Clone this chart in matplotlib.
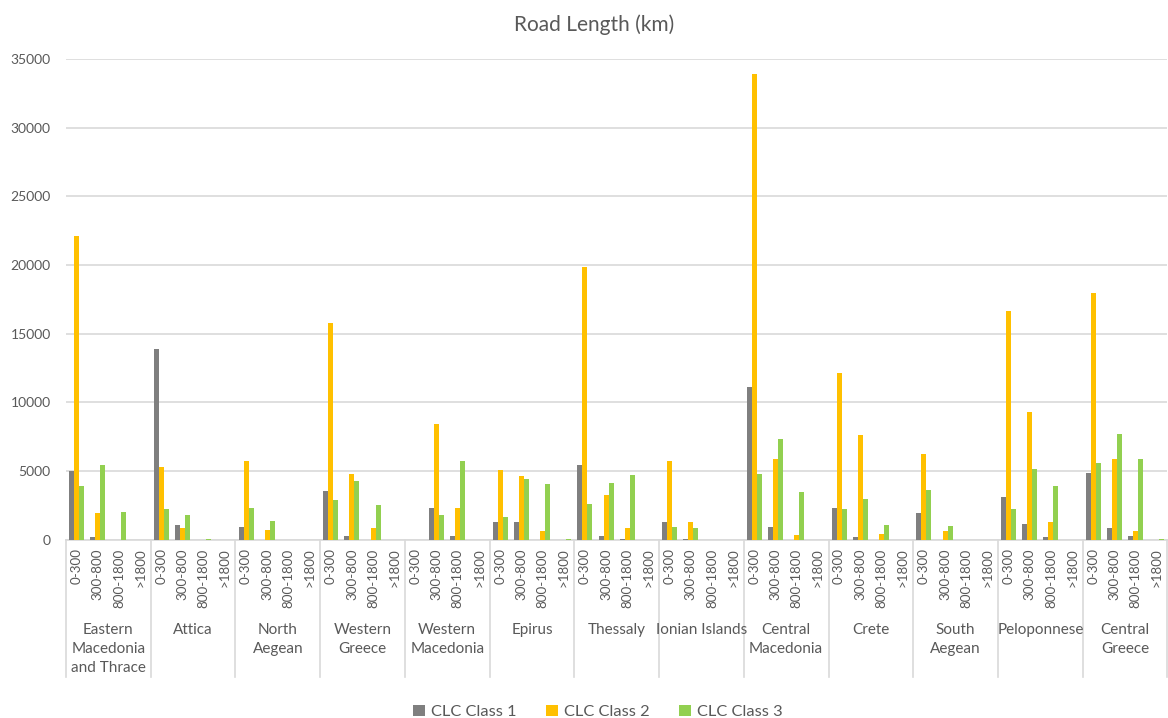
import numpy as np
import matplotlib.pyplot as plt
from matplotlib.transforms import blended_transform_factory

plt.rcParams['font.family'] = ['Lato', 'DejaVu Sans']

regions = ["Eastern\nMacedonia\nand Thrace", "Attica", "North\nAegean", "Western\nGreece",
           "Western\nMacedonia", "Epirus", "Thessaly", "Ionian Islands", "Central\nMacedonia",
           "Crete", "South\nAegean", "Peloponnese", "Central\nGreece"]
zones = ["0-300", "300-800", "800-1800", ">1800"]

# road length (km) per region, four elevation zones each
clc1 = [5000, 240, 0, 0,
        13900, 1090, 0, 0,
        920, 0, 0, 0,
        3590, 290, 0, 0,
        0, 2300, 315, 0,
        1330, 1290, 0, 0,
        5430, 315, 50, 0,
        1290, 50, 0, 0,
        11160, 970, 0, 0,
        2330, 240, 0, 0,
        1940, 0, 0, 0,
        3130, 1160, 220, 0,
        4900, 850, 270, 0]
clc2 = [22100, 1990, 0, 0,
        5340, 850, 0, 0,
        5750, 730, 0, 0,
        15770, 4800, 850, 0,
        0, 8420, 2300, 0,
        5090, 4660, 650, 0,
        19850, 3250, 850, 0,
        5770, 1330, 0, 0,
        33920, 5900, 360, 0,
        12130, 7620, 440, 0,
        6240, 680, 0, 0,
        16690, 9290, 1290, 0,
        18000, 5900, 680, 0]
clc3 = [3950, 5460, 2060, 0,
        2250, 1820, 50, 0,
        2300, 1380, 0, 0,
        2890, 4320, 2550, 0,
        0, 1820, 5770, 0,
        1700, 4420, 4080, 50,
        2600, 4170, 4730, 0,
        970, 850, 0, 0,
        4830, 7350, 3520, 0,
        2260, 2980, 1090, 0,
        3640, 1020, 0, 0,
        2280, 5170, 3930, 0,
        5580, 7740, 5900, 50]

colors = ["#7f7f7f", "#ffc000", "#92d050"]
names = ["CLC Class 1", "CLC Class 2", "CLC Class 3"]
txt = "#595959"

fig = plt.figure(figsize=(11.68, 7.18), dpi=100)
ax = fig.add_axes([0.0565, 0.248, 0.943, 0.670])

n = len(regions) * len(zones)
x = np.arange(n) + 0.5
w = 0.236
for k, (vals, c, nm) in enumerate(zip([clc1, clc2, clc3], colors, names)):
    ax.bar(x + (k - 1) * w, vals, width=w, color=c, label=nm, zorder=3)

ax.set_xlim(0, n)
ax.set_ylim(0, 35000)
ax.set_yticks(np.arange(0, 35001, 5000))
ax.tick_params(axis='y', length=0, labelsize=10, labelcolor=txt, pad=11)
ax.yaxis.grid(True, color="#d9d9d9", lw=1.2, zorder=0)
for s in ["left", "right", "top"]:
    ax.spines[s].set_visible(False)
ax.spines["bottom"].set_color("#d9d9d9")
ax.spines["bottom"].set_linewidth(1.2)

# inner level: elevation zones
ax.set_xticks(x)
ax.set_xticklabels(zones * len(regions), rotation=90, fontsize=9.6, color=txt, va='top')
ax.tick_params(axis='x', length=0, pad=6)

# outer level: regions with separators
tr = blended_transform_factory(ax.transData, ax.transAxes)
for g in range(len(regions) + 1):
    ax.plot([g * 4, g * 4], [0, -0.285], transform=tr, color="#d9d9d9", lw=1.2, clip_on=False)
for g, r in enumerate(regions):
    ax.text(g * 4 + 2, -0.172, r, transform=tr, ha='center', va='top', fontsize=11,
            color=txt, linespacing=1.45)

fig.text(0.509, 0.965, "Road Length (km)", ha='center', va='center', fontsize=15, color=txt)

fig.legend(loc='lower center', ncol=3, frameon=False, fontsize=11.8, labelcolor=txt,
           handlelength=0.7, handleheight=0.7, handletextpad=0.4, columnspacing=1.8,
           bbox_to_anchor=(0.512, -0.022))

fig.savefig("out.png", dpi=100)
